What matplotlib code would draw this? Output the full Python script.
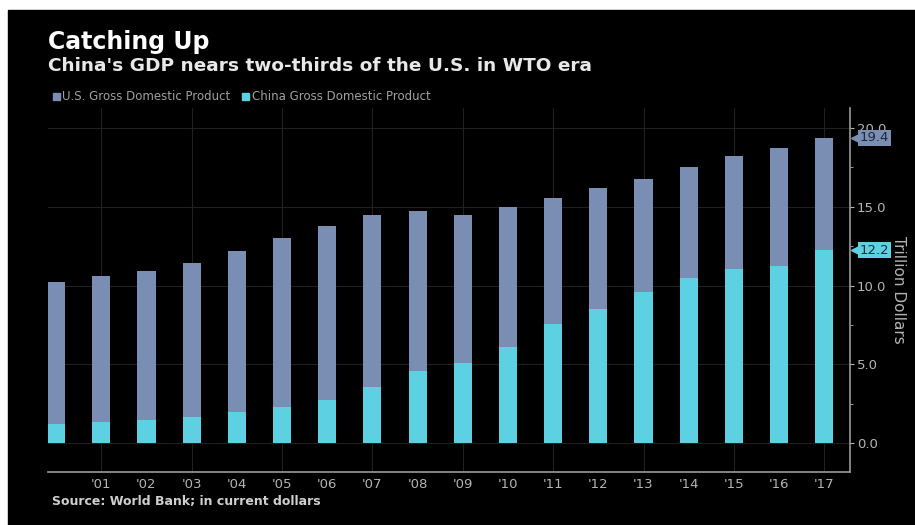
import matplotlib
matplotlib.use("Agg")
import matplotlib.pyplot as plt
import matplotlib.transforms as mtransforms
from matplotlib.patches import Rectangle, Patch
import numpy as np

# data (trillion dollars, current)
years = list(range(2000, 2018))
us_gdp = [10.25, 10.58, 10.94, 11.46, 12.21, 13.04, 13.81, 14.45, 14.71,
          14.45, 14.99, 15.54, 16.20, 16.78, 17.52, 18.22, 18.71, 19.39]
china_gdp = [1.21, 1.34, 1.47, 1.66, 1.96, 2.29, 2.75, 3.55, 4.59,
             5.10, 6.09, 7.55, 8.53, 9.57, 10.48, 11.06, 11.23, 12.24]
tick_labels = [""] + ["'%02d" % (y % 100) for y in years[1:]]

us_col = "#7a8db3"
cn_col = "#5dd0e1"
txt_col = "#b4b4b4"
grid_col = "#202020"

W, H = 915, 525
fig = plt.figure(figsize=(W / 100, H / 100), dpi=100, facecolor="white")
fig.patches.append(Rectangle((8 / W, 0), 1, 1 - 10 / H, transform=fig.transFigure,
                             color="black", zorder=-5))

ax = fig.add_axes([48 / W, (H - 472) / H, (850 - 48) / W, (472 - 108) / H])
ax.set_facecolor("black")

x = np.arange(len(years))
ax.bar(x, us_gdp, width=0.4, color=us_col, zorder=3)
ax.bar(x, china_gdp, width=0.4, color=cn_col, zorder=4)

ax.set_xlim(-0.18, 17.57)
ax.set_ylim(-1.84, 21.27)

# grid
for v in [0, 5, 10, 15, 20]:
    ax.axhline(v, color=grid_col, lw=0.8, zorder=1)
for i in x:
    if years[i] % 2 == 1:
        ax.axvline(i, color=grid_col, lw=0.8, zorder=1)

for s in ["left", "top"]:
    ax.spines[s].set_visible(False)
for s in ["bottom", "right"]:
    ax.spines[s].set_color("#9a9a9a")
    ax.spines[s].set_linewidth(1.2)

ax.set_xticks(x)
ax.set_xticklabels(tick_labels)
ax.tick_params(axis="x", length=0, colors=txt_col, labelsize=9.5, pad=4)

ax.yaxis.tick_right()
ax.set_yticks([0, 5, 10, 15, 20])
ax.set_yticklabels(["0.0", "5.0", "10.0", "15.0", "20.0"])
ax.set_yticks([2.5, 7.5, 12.5, 17.5], minor=True)
ax.tick_params(axis="y", which="both", right=True, left=False, length=3,
               colors=txt_col, labelsize=9.5, pad=2)
ax.tick_params(axis="y", which="minor", length=2)
ax.yaxis.set_label_position("right")
ax.set_ylabel("Trillion Dollars", color=txt_col, fontsize=11, rotation=270,
              labelpad=14)

# last value tags
trans = mtransforms.blended_transform_factory(ax.transAxes, ax.transData)
for val, col in [(us_gdp[-1], us_col), (china_gdp[-1], cn_col)]:
    ax.text(1.012, val, "%.1f" % val, transform=trans, fontsize=9.5,
            color="#1d2a3a", va="center", ha="left", zorder=10,
            bbox=dict(boxstyle="square,pad=0.12", fc=col, ec="none"))
    ax.plot([1.007], [val], marker="<", ms=7, color=col, transform=trans,
            clip_on=False, zorder=9)

# titles
fig.text(48 / W, 1 - 42 / H, "Catching Up", color="white", fontsize=17,
         fontweight="bold", va="center")
fig.text(48 / W, 1 - 66 / H, "China's GDP nears two-thirds of the U.S. in WTO era",
         color="#e8e8e8", fontsize=13.3, fontweight="bold", va="center")

handles = [Patch(color=us_col, label="U.S. Gross Domestic Product"),
           Patch(color=cn_col, label="China Gross Domestic Product")]
leg = fig.legend(handles=handles, loc="center left",
                 bbox_to_anchor=(48 / W, 1 - 97 / H), ncol=2, frameon=False,
                 fontsize=8.5, handlelength=0.6, handleheight=0.6,
                 handletextpad=0.2, columnspacing=1.0, borderaxespad=0)
for t in leg.get_texts():
    t.set_color("#a0a0a0")

fig.text(52 / W, 1 - 501 / H, "Source: World Bank; in current dollars",
         color="#cfcfcf", fontsize=9, fontweight="bold", va="center")

fig.savefig("out.png", dpi=100, facecolor=fig.get_facecolor())
